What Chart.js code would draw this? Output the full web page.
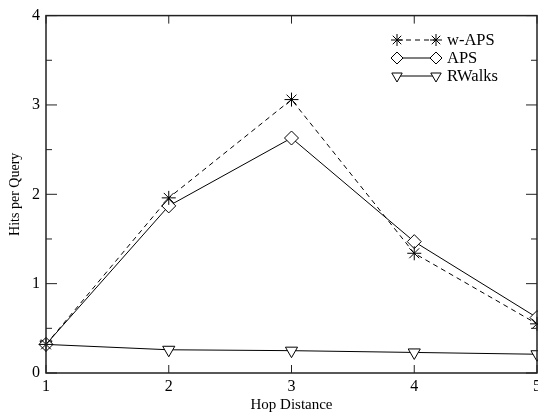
<!DOCTYPE html>
<html>
<head>
<meta charset="utf-8">
<script src="https://cdn.jsdelivr.net/npm/chart.js@4"></script>
<style>
  html, body { margin: 0; padding: 0; background: #fff; overflow: hidden; }
  canvas { display: block; }
</style>
</head>
<body>
<canvas id="myChart" width="545" height="416"></canvas>
<script>
let hops = [1, 2, 3, 4, 5];
let wAPS = [0.32, 1.96, 3.06, 1.34, 0.55];
let aps = [0.32, 1.87, 2.63, 1.47, 0.62];
let rwalks = [0.32, 0.26, 0.25, 0.23, 0.21];
let yTicks = [0, 1, 2, 3, 4];
let xTicks = [1, 2, 3, 4, 5];

const serif = '"Liberation Serif", "DejaVu Serif", serif';

function toPoints(values) {
  return hops.map((h, i) => ({ x: h, y: values[i] }));
}

let series = [
  { label: 'w-APS', values: wAPS, style: 'star', rotation: 0, dash: [5, 4] },
  { label: 'APS', values: aps, style: 'rectRot', rotation: 0, dash: [] },
  { label: 'RWalks', values: rwalks, style: 'triangle', rotation: 180, dash: [] }
];

let datasets = series.map(s => ({
  label: s.label,
  data: toPoints(s.values),
  borderColor: '#000',
  backgroundColor: '#fff',
  borderWidth: 1,
  borderDash: s.dash,
  pointStyle: s.style,
  rotation: s.rotation,
  pointRadius: 7,
  pointBorderColor: '#000',
  pointBackgroundColor: '#fff',
  pointBorderWidth: 1,
  tension: 0,
  clip: false
}));

// frame, inward ticks and the in-plot legend
const framePlugin = {
  id: 'frame',
  afterDraw(chart) {
    const ctx = chart.ctx;
    const a = chart.chartArea;
    const xs = chart.scales.x;
    const ys = chart.scales.y;
    ctx.save();
    ctx.strokeStyle = '#222';
    ctx.lineWidth = 1.5;
    ctx.strokeRect(a.left, a.top, a.right - a.left, a.bottom - a.top);

    ctx.lineWidth = 1;
    ctx.beginPath();
    yTicks.forEach(v => {
      const y = ys.getPixelForValue(v);
      ctx.moveTo(a.left, y); ctx.lineTo(a.left + 11, y);
      ctx.moveTo(a.right, y); ctx.lineTo(a.right - 11, y);
      if (v < 4) {
        const ym = ys.getPixelForValue(v + 0.5);
        ctx.moveTo(a.left, ym); ctx.lineTo(a.left + 6, ym);
        ctx.moveTo(a.right, ym); ctx.lineTo(a.right - 6, ym);
      }
    });
    xTicks.forEach(v => {
      const x = xs.getPixelForValue(v);
      ctx.moveTo(x, a.bottom); ctx.lineTo(x, a.bottom - 8);
      ctx.moveTo(x, a.top); ctx.lineTo(x, a.top + 8);
    });
    ctx.stroke();

    // legend
    const x1 = 397, x2 = 436;
    series.forEach((s, i) => {
      const y = 40 + i * 18;
      ctx.strokeStyle = '#000';
      ctx.lineWidth = 1;
      ctx.setLineDash(s.dash);
      ctx.beginPath();
      ctx.moveTo(x1, y); ctx.lineTo(x2, y);
      ctx.stroke();
      ctx.setLineDash([]);
      ctx.fillStyle = '#fff';
      [x1, x2].forEach(px => {
        Chart.helpers.drawPoint(ctx, {
          pointStyle: s.style, rotation: s.rotation, radius: 6, borderWidth: 1
        }, px, y);
      });
      ctx.fillStyle = '#000';
      ctx.font = '16.5px ' + serif;
      ctx.textBaseline = 'middle';
      ctx.textAlign = 'left';
      ctx.fillText(s.label, 447, y + 1);
    });
    ctx.restore();
  }
};

let config = {
  type: 'line',
  data: { datasets: datasets },
  options: {
    responsive: false,
    animation: false,
    layout: { padding: { left: 0, top: 9, right: 5.5, bottom: 0 } },
    plugins: {
      legend: { display: false },
      tooltip: { enabled: false }
    },
    scales: {
      x: {
        type: 'linear',
        min: 1,
        max: 5,
        afterFit(scale) { scale.height = 43; },
        grid: { display: false, drawTicks: false },
        border: { display: false },
        ticks: {
          stepSize: 1,
          padding: 4,
          color: '#000',
          font: { family: serif, size: 16 }
        },
        title: {
          display: true,
          text: 'Hop Distance',
          color: '#000',
          padding: { top: 0, bottom: 2 },
          font: { family: serif, size: 15 }
        }
      },
      y: {
        min: 0,
        max: 4,
        afterFit(scale) { scale.width = 46; },
        grid: { display: false, drawTicks: false },
        border: { display: false },
        ticks: {
          stepSize: 1,
          padding: 6,
          color: '#000',
          font: { family: serif, size: 16 }
        },
        title: {
          display: true,
          text: 'Hits per Query',
          color: '#000',
          padding: { top: 7, bottom: 0 },
          font: { family: serif, size: 14 }
        }
      }
    }
  },
  plugins: [framePlugin]
};

let myChart = new Chart(document.getElementById('myChart'), config);
</script>
</body>
</html>
